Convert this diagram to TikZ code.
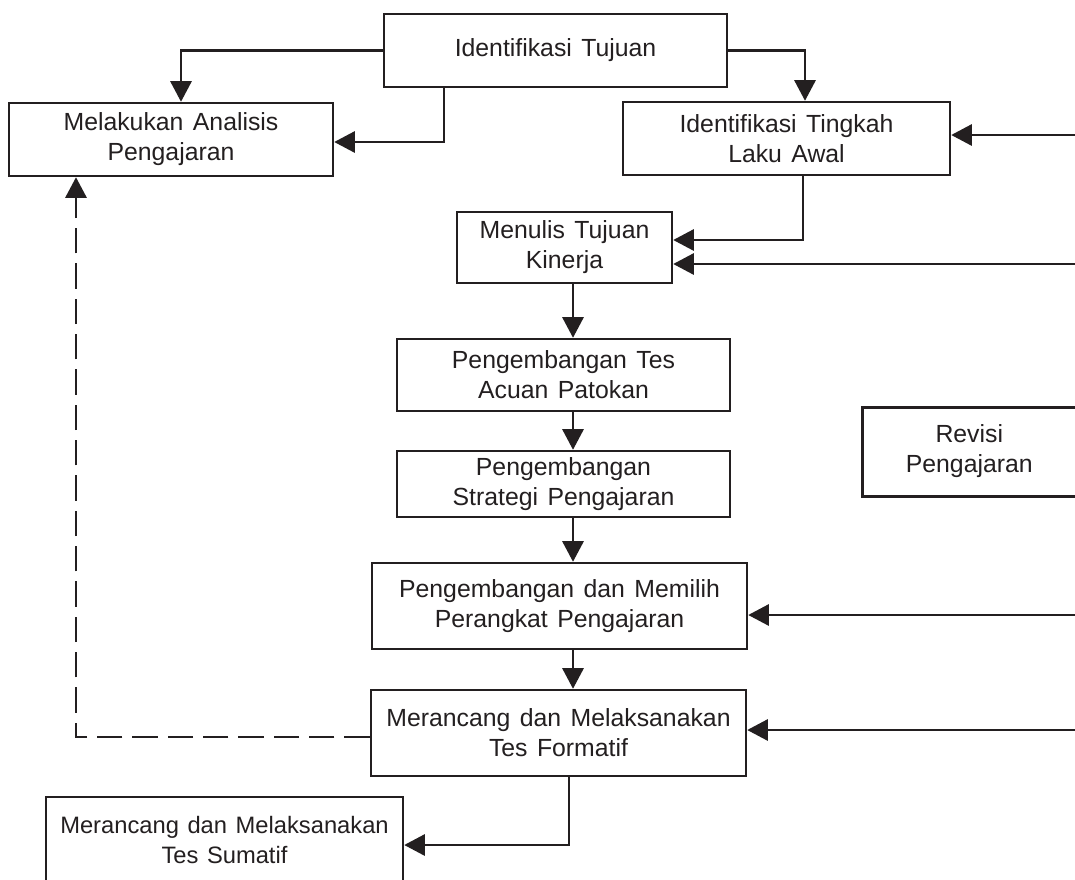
\documentclass[tikz,border=0pt]{standalone}
\usepackage{fontspec}
\setmainfont{Liberation Sans}
\usetikzlibrary{arrows.meta,calc}
\definecolor{ink}{HTML}{231F20}
\newcommand{\boxfont}{\fontsize{18.6}{22.5}\selectfont\spaceskip=0.38em plus 0.1em\relax}
\newcommand{\smallboxfont}{\fontsize{17.8}{22.5}\selectfont\spaceskip=0.36em plus 0.1em\relax}
\tikzset{
  stepbox/.style={draw=ink, line width=1.9pt, rectangle, align=center, inner sep=0pt,
    text=ink, font=\boxfont},
  arr/.style={draw=ink, line width=1.6pt, -{Triangle[length=15.5pt,width=16pt]}},
  dasharr/.style={arr, dash pattern=on 19pt off 7.5pt}
}
\begin{document}
\begin{tikzpicture}[x=0.75pt,y=-0.75pt]
\useasboundingbox (0,0) rectangle (1075,879);
\clip (0,0) rectangle (1075,879);
\fill[white] (0,0) rectangle (1075,879);
% boxes
\node[stepbox, minimum width=343*0.75pt, minimum height=73*0.75pt] (tuj) at (555.5,50.5) {Identifikasi Tujuan};
\node[stepbox, minimum width=324*0.75pt, minimum height=73*0.75pt] (ana) at (171,139.5) {Melakukan Analisis\\Pengajaran};
\node[stepbox, minimum width=327*0.75pt, minimum height=73*0.75pt] (tin) at (786.5,138.5) {Identifikasi Tingkah\\Laku Awal};
\node[stepbox, minimum width=215*0.75pt, minimum height=71*0.75pt] (men) at (564.5,247.5) {Menulis Tujuan\\Kinerja};
\node[stepbox, minimum width=333*0.75pt, minimum height=72*0.75pt] (tes) at (563.5,375) {Pengembangan Tes\\Acuan Patokan};
\node[stepbox, minimum width=333*0.75pt, minimum height=66*0.75pt] (str) at (563.5,484) {Pengembangan\\Strategi Pengajaran};
\node[stepbox, minimum width=375*0.75pt, minimum height=86*0.75pt] (per) at (559.5,606) {Pengembangan dan Memilih\\Perangkat Pengajaran};
\node[stepbox, minimum width=375*0.75pt, minimum height=86*0.75pt] (for) at (558.5,733) {Merancang dan Melaksanakan\\Tes Formatif};
\node[stepbox, font=\smallboxfont, minimum width=357*0.75pt, minimum height=86*0.75pt] (sum) at (224.5,840) {Merancang dan Melaksanakan\\Tes Sumatif};
\node[stepbox, anchor=north west, minimum width=300*0.75pt, minimum height=89*0.75pt] (rev) at (861,406)
  {\begin{tabular}{@{}c@{}}Revisi\\Pengajaran\end{tabular}\hspace*{64.5pt}};
% helper coordinates
\coordinate (spine) at (573,0);
\coordinate (spineb) at (569,0);
\coordinate (e1) at (1090,135);
\coordinate (e2) at (1090,264);
\coordinate (e3) at (1090,615);
\coordinate (e4) at (1090,730);
% connectors
\draw[arr] (tuj.west) -| ($(ana.north)+(10,0)$);
\draw[arr] (tuj.east) -| ($(tin.north)+(18.5,0)$);
\draw[arr] ($(tuj.south)+(-111.5,0)$) |- ($(ana.east)+(0,2.5)$);
\draw[arr] ($(tin.south)+(16.5,0)$) |- ($(men.east)+(0,-7.5)$);
\draw[arr] (e1) -- (e1 -| tin.east);
\draw[arr] (e2) -- (e2 -| men.east);
\draw[arr] (e3) -- (e3 -| per.east);
\draw[arr] (e4) -- (e4 -| for.east);
\draw[arr] (men.south -| spine) -- (tes.north -| spine);
\draw[arr] (tes.south -| spine) -- (str.north -| spine);
\draw[arr] (str.south -| spine) -- (per.north -| spine);
\draw[arr] (per.south -| spine) -- (for.north -| spine);
\draw[arr] (for.south -| spineb) |- ($(sum.east)+(0,5)$);
\draw[dasharr] ($(for.west)+(0,4)$) -| ($(ana.south)+(-95,0)$);
\end{tikzpicture}
\end{document}
